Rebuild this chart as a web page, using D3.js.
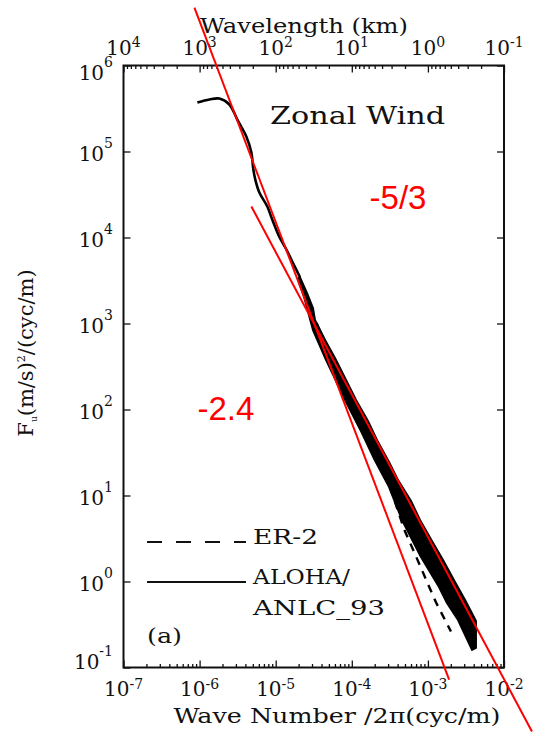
<!DOCTYPE html>
<html>
<head>
<meta charset="utf-8">
<script src="https://cdn.jsdelivr.net/npm/d3@7"></script>
<style>
  body { margin: 0; background: #fff; }
  svg { display: block; }
  text { font-family: "DejaVu Serif", serif; fill: #111; }
</style>
</head>
<body>
<svg id="chart" width="538" height="732"></svg>
<script>
// Axis extents (wave number in cyc/m, spectral density)
const kDomain = [1e-7, 1e-2];
const fDomain = [1e-1, 1e6];
const kTickPowers = [-7, -6, -5, -4, -3, -2];
const fTickPowers = [6, 5, 4, 3, 2, 1, 0, -1];
const lambdaTickPowers = [4, 3, 2, 1, 0, -1];   // wavelength, km

// ALOHA/ANLC_93 spectrum, single trace at the low wave numbers
const alohaCurve = [
  [9.35e-7, 3.72e5], [1.35e-6, 4.03e5], [1.82e-6, 4.13e5], [2.46e-6, 3.52e5],
  [3.13e-6, 2.35e5], [4.11e-6, 1.49e5], [4.79e-6, 9.7e4], [5.08e-6, 6.2e4],
  [5.4e-6, 4.7e4], [6.1e-6, 3.33e4], [7.76e-6, 2.29e4], [9.0e-6, 1.62e4],
  [1.11e-5, 1.03e4], [1.38e-5, 7.25e3], [1.65e-5, 5.26e3], [2.08e-5, 3.47e3]
];
// Spread of the overlapping ALOHA spectra at the higher wave numbers
const bandUpper = [
  [2.08e-5, 3.47e3], [2.58e-5, 2.26e3], [3.09e-5, 1.51e3], [3.28e-5, 1.10e3],
  [4.45e-5, 643], [6.01e-5, 397], [8.65e-5, 209], [1.135e-4, 129],
  [1.63e-4, 73.5], [2.14e-4, 44.2], [3.08e-4, 24.5], [4.05e-4, 15.1],
  [6.0e-4, 8.63], [7.87e-4, 5.19], [1.13e-3, 2.96], [1.58e-3, 1.78],
  [2.27e-3, 0.986], [3.08e-3, 0.610], [4.28e-3, 0.347], [4.28e-3, 0.169]
];
const bandLower = [
  [1.96e-5, 3.29e3], [2.08e-5, 2.81e3], [2.36e-5, 2.03e3], [3.09e-5, 840],
  [4.58e-5, 377], [8.15e-5, 129], [1.36e-4, 53.3], [2.0e-4, 25.9],
  [3.08e-4, 12.6], [4.57e-4, 5.19], [8.11e-4, 1.93], [1.40e-3, 0.863],
  [1.78e-3, 0.562], [2.49e-3, 0.356], [3.80e-3, 0.160]
];
// ER-2 spectrum
const er2Curve = [
  [2.04e-5, 3.08e3], [9.25e-5, 124], [3.10e-4, 13.4], [4.88e-4, 4.03],
  [7.0e-4, 1.95], [9.46e-4, 1.05], [1.28e-3, 0.570], [2.01e-3, 0.262]
];
// Power-law reference lines
const fitSteep = [[8.55e-7, 4.72e6], [1.9e-3, 0.0724]];      // -2.4
const fitShallow = [[4.79e-6, 2.29e4], [2.33e-2, 0.018]];    // -5/3
const slopeLabels = [
  { text: "-5/3", k: 4.05e-4, f: 2.14e4 },
  { text: "-2.4", k: 2.22e-6, f: 75.5 }
];
const legendItems = [
  { lines: ["ER-2"], dash: "15,14" },
  { lines: ["ALOHA/", "ANLC_93"], dash: null }
];

const svg = d3.select("#chart");
const plot = { left: 123.5, right: 504, top: 65.5, bottom: 667.5 };

const x = d3.scaleLog().domain(kDomain).range([plot.left, plot.right]);
const y = d3.scaleLog().domain(fDomain).range([plot.bottom, plot.top]);
// wavelength (km) = 1 / (1000 * k)
const xTop = d3.scaleLog()
  .domain([1 / (1000 * kDomain[0]), 1 / (1000 * kDomain[1])])
  .range([plot.left, plot.right]);

const line = d3.line().x(d => x(d[0])).y(d => y(d[1]));
const smoothLine = d3.line().x(d => x(d[0])).y(d => y(d[1]))
  .curve(d3.curveCatmullRom.alpha(0.5));

// Ticks, drawn inward
function ticks(axisFn, scale, values, size, transform) {
  const g = svg.append("g").attr("transform", transform)
    .call(axisFn(scale).tickValues(values).tickSize(-size).tickSizeOuter(0).tickFormat(""));
  g.select(".domain").remove();
  g.selectAll(".tick line").attr("stroke", "#111").attr("stroke-width", 1.3);
}
const isDecade = v => Math.abs(Math.log10(v) - Math.round(Math.log10(v))) < 1e-6;
const kMinor = x.ticks().filter(v => !isDecade(v));
const lMinor = xTop.ticks().filter(v => !isDecade(v));
ticks(d3.axisBottom, x, kMinor, 3.5, `translate(0,${plot.bottom})`);
ticks(d3.axisBottom, x, kTickPowers.map(p => 10 ** p), 7, `translate(0,${plot.bottom})`);
ticks(d3.axisTop, xTop, lMinor, 3.5, `translate(0,${plot.top})`);
ticks(d3.axisTop, xTop, lambdaTickPowers.map(p => 10 ** p), 7, `translate(0,${plot.top})`);
ticks(d3.axisLeft, y, fTickPowers.map(p => 10 ** p), 7, `translate(${plot.left},0)`);
ticks(d3.axisRight, y, fTickPowers.map(p => 10 ** p), 7, `translate(${plot.right},0)`);

// Frame
svg.append("rect")
  .attr("x", plot.left).attr("y", plot.top)
  .attr("width", plot.right - plot.left).attr("height", plot.bottom - plot.top)
  .attr("fill", "none").attr("stroke", "#111").attr("stroke-width", 2);

// Power-of-ten labels
function powLabel(px, py, p, anchor, raise) {
  const t = svg.append("text").attr("x", px).attr("y", py).attr("text-anchor", anchor);
  t.append("tspan").attr("font-size", 20).text("10");
  t.append("tspan").attr("font-size", 14).attr("dy", -raise).text(p < 0 ? "-" + (-p) : String(p));
}
kTickPowers.forEach(p => powLabel(x(10 ** p), 696, p, "middle", 7));
lambdaTickPowers.forEach(p => powLabel(xTop(10 ** p), 55, p, "middle", 8));
fTickPowers.forEach((p, i) => {
  const off = i === 0 ? 14 : (i === fTickPowers.length - 1 ? 1 : 9);
  powLabel(113, y(10 ** p) + off, p, "end", 13);
});

// Axis titles
svg.append("text").attr("x", 304).attr("y", 33).attr("text-anchor", "middle")
  .attr("font-size", 21).attr("textLength", 208).attr("lengthAdjust", "spacingAndGlyphs")
  .text("Wavelength (km)");
svg.append("text").attr("x", 337).attr("y", 723).attr("text-anchor", "middle")
  .attr("font-size", 21).attr("textLength", 327).attr("lengthAdjust", "spacingAndGlyphs")
  .text("Wave Number /2π(cyc/m)");
const yt = svg.append("text").attr("text-anchor", "middle")
  .attr("transform", "translate(33,353) rotate(-90)").attr("font-size", 21);
yt.append("tspan").text("F");
yt.append("tspan").attr("font-size", 9).attr("dy", 4).text("u");
yt.append("tspan").attr("dy", -4).text("(m/s)");
yt.append("tspan").attr("font-size", 11).attr("dy", -8).text("2");
yt.append("tspan").attr("dy", 8).text("/(cyc/m)");

svg.append("text").attr("x", 270).attr("y", 124)
  .attr("font-size", 25).attr("textLength", 175).attr("lengthAdjust", "spacingAndGlyphs")
  .text("Zonal Wind");

// Spectra
svg.append("path")
  .attr("d", line(bandUpper.concat(bandLower.slice().reverse())) + "Z")
  .attr("fill", "#000").attr("stroke", "#000").attr("stroke-width", 2).attr("stroke-linejoin", "round");
svg.append("path").attr("d", smoothLine(alohaCurve))
  .attr("fill", "none").attr("stroke", "#000").attr("stroke-width", 2.6).attr("stroke-linejoin", "round");
svg.append("path").attr("d", line(er2Curve))
  .attr("fill", "none").attr("stroke", "#000").attr("stroke-width", 2.4).attr("stroke-dasharray", "8,7");

// Reference slopes
[fitSteep, fitShallow].forEach(seg => {
  svg.append("path").attr("d", line(seg))
    .attr("fill", "none").attr("stroke", "#ff0000").attr("stroke-width", 2);
});
slopeLabels.forEach(s => {
  svg.append("text").attr("x", x(s.k)).attr("y", y(s.f)).attr("text-anchor", "middle")
    .style("font-family", "'Liberation Sans', Arial, sans-serif").style("fill", "#ff0000")
    .attr("font-size", 33).text(s.text);
});

// Legend
const legend = svg.append("g");
legendItems.forEach((it, i) => {
  const ly = 542 + i * 40;
  legend.append("line").attr("x1", 147).attr("x2", 246).attr("y1", ly).attr("y2", ly)
    .attr("stroke", "#111").attr("stroke-width", 2)
    .attr("stroke-dasharray", it.dash);
  it.lines.forEach((txt, j) => {
    legend.append("text").attr("x", 253).attr("y", ly + 2 + j * 31)
      .attr("font-size", 20).attr("textLength", [65, 97, 132][i + j])
      .attr("lengthAdjust", "spacingAndGlyphs").text(txt);
  });
});
svg.append("text").attr("x", 147).attr("y", 643).attr("font-size", 20)
  .attr("textLength", 35).attr("lengthAdjust", "spacingAndGlyphs").text("(a)");
</script>
</body>
</html>
